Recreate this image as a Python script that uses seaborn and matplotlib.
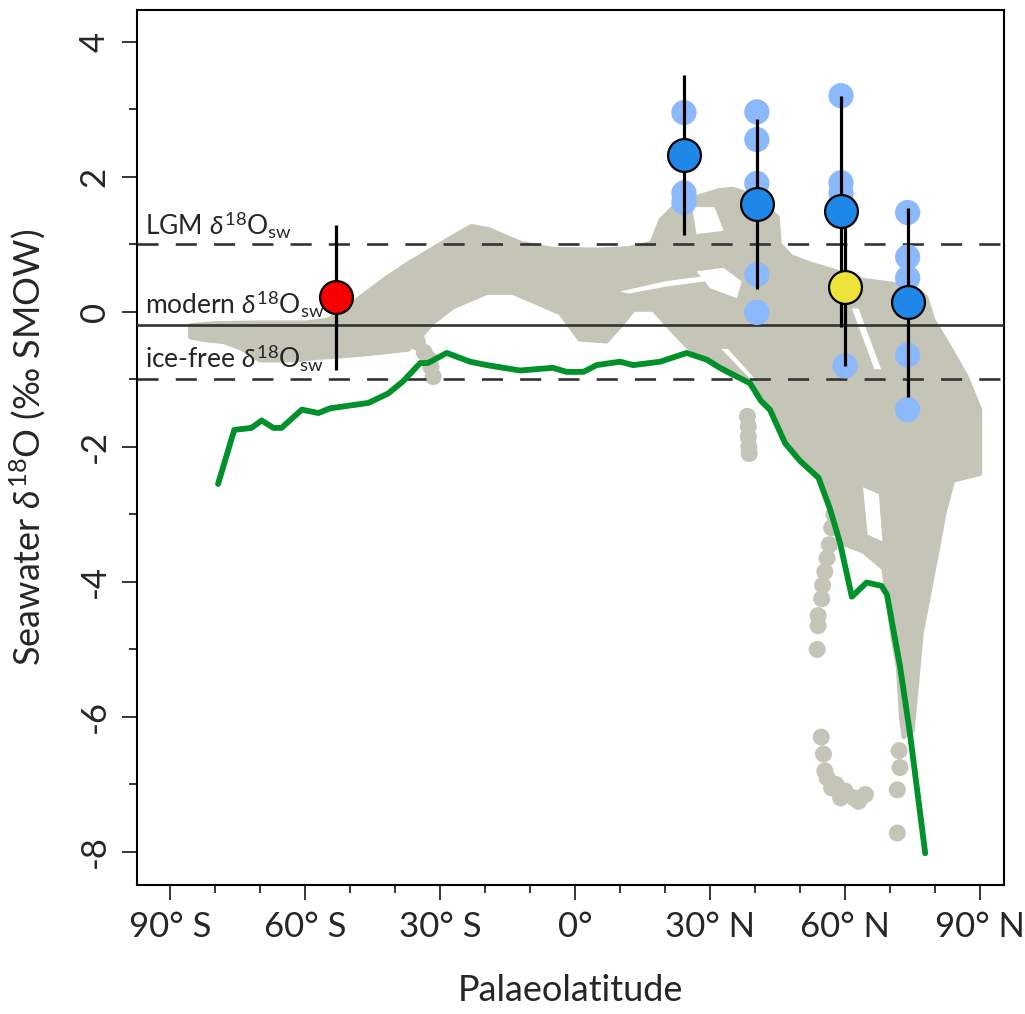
import matplotlib
matplotlib.use("Agg")
import matplotlib.pyplot as plt
from matplotlib.patches import Polygon
from matplotlib.ticker import MultipleLocator
import numpy as np
import pandas as pd
import seaborn as sns

# --- model envelope (grey cloud), outline ---
cloud_lat = [-85.5, -80, -70, -60, -55, -52, -47, -42, -37, -32, -27, -23, -19, -15, -12, -5, 5, 12,
             17, 19, 22, 25, 28, 32, 35, 40, 45, 45.5, 48, 52, 57, 64, 70, 75, 78, 79.6, 82.7, 87, 90,
             90, 87, 84, 82, 81, 79, 77, 76, 75, 73, 72.4, 71.8, 70.5, 69.5, 68.5,
             64, 60, 57, 56.7, 54.1, 50, 46.7, 43.3, 41, 38.9, 35, 33, 29, 25, 22, 17.4, 13, 10, 7, 1,
             -3.3, -13.8, -19.6, -27, -31.5, -34, -37, -45, -53.8, -57, -62, -70, -74, -78, -82, -85.5]
cloud_val = [-0.2, -0.17, -0.16, -0.16, -0.12, 0.0, 0.25, 0.5, 0.72, 0.92, 1.12, 1.27, 1.22, 1.1, 1.02, 0.93, 0.92, 0.94,
             1.02, 1.36, 1.56, 1.66, 1.72, 1.8, 1.82, 1.72, 1.4, 1.0, 0.82, 0.72, 0.62, 0.47, 0.42, 0.37, 0.22, -0.12, -0.46, -0.96, -1.45,
             -2.4, -2.45, -2.5, -3.0, -3.38, -4.07, -4.76, -5.5, -6.2, -6.3, -6.0, -5.3, -4.8, -4.3, -3.8,
             -3.55, -3.45, -3.0, -2.9, -2.42, -2.15, -1.9, -1.4, -1.25, -1.0, -0.95, -0.88, -0.7, -0.52, -0.31, 0.03, 0.03, -0.22, -0.44, -0.41,
             -0.02, 0.28, 0.28, 0.07, -0.16, -0.35, -0.56, -0.62, -0.67, -0.68, -0.72, -0.72, -0.55, -0.45, -0.42, -0.38]

# gaps inside the cloud
gap1_lat = [10, 20, 31, 31, 20, 12]
gap1_val = [0.30, 0.45, 0.55, 0.47, 0.37, 0.27]
gap2_lat = [27, 33, 37, 36, 30]
gap2_val = [0.6, 0.65, 0.45, 0.2, 0.35]
gap3_lat = [61.5, 63, 68, 66.5]
gap3_val = [0.05, 0.05, -0.85, -0.85]
gap4_lat = [26, 31, 33, 27]
gap4_val = [1.55, 1.55, 1.2, 1.15]
gap5_lat = [64, 67.5, 68.3, 65]
gap5_val = [-2.6, -2.7, -3.4, -3.3]
gap6_lat = [32.5, 34, 40, 39]
gap6_val = [-0.55, -0.55, -1.0, -1.0]

# isolated model points outside the main cloud
dots_lat = [-36, -35, -33.5, -32.5, -32, -31.5,
            38.3, 38.5, 38.5, 38.6, 38.7,
            57.5, 57, 56.5, 56, 55.5, 55, 54.8, 54, 54, 53.8,
            54.7, 55.2, 55.5, 56, 57, 58, 59, 60, 62, 63, 64.5,
            72, 72.2, 71.6, 71.6]
dots_val = [-0.3, -0.45, -0.6, -0.7, -0.82, -0.96,
            -1.55, -1.7, -1.85, -2.0, -2.1,
            -3.0, -3.2, -3.45, -3.65, -3.85, -4.05, -4.25, -4.5, -4.65, -5.0,
            -6.3, -6.55, -6.8, -6.9, -7.05, -7.0, -7.2, -7.1, -7.2, -7.25, -7.15,
            -6.5, -6.75, -7.08, -7.72]

# green model line
line_lat = [-79.3, -75.7, -71.9, -69.6, -67.0, -65.2, -60.7, -57.0, -54.4, -45.9, -41.5, -38.2, -34.4,
            -32.7, -28.5, -23.3, -19.6, -12.2, -4.9, -1.9, 1.9, 4.8, 10.0, 12.9, 18.9, 24.8, 29.3, 32.2,
            38.9, 41.3, 43.3, 46.7, 50.0, 54.1, 56.7, 58.9, 61.5, 64.8, 68.1, 69.3, 72.2, 74.4, 77.8]
line_val = [-2.55, -1.75, -1.72, -1.61, -1.72, -1.72, -1.45, -1.50, -1.43, -1.35, -1.21, -1.03, -0.76,
            -0.76, -0.61, -0.74, -0.79, -0.87, -0.83, -0.89, -0.89, -0.79, -0.74, -0.79, -0.74, -0.61, -0.71, -0.83,
            -1.06, -1.32, -1.45, -1.95, -2.21, -2.46, -2.93, -3.43, -4.22, -4.01, -4.06, -4.19, -5.25, -6.24, -8.02]

# individual proxy samples
sample_lat = [24.2, 24.2, 24.2, 40.4, 40.4, 40.4, 40.4, 40.4, 59.1, 59.1, 59.1, 60.0,
              73.9, 73.9, 73.9, 73.9, 73.9]
sample_val = [2.95, 1.76, 1.62, 2.96, 2.55, 1.90, 0.55, -0.01, 3.2, 1.91, 1.76, -0.80,
              1.47, 0.81, 0.50, -0.64, -1.45]

# site means with ranges
site_lat = [-53.1, 24.2, 40.4, 59.1, 60.0, 73.9]
site_val = [0.22, 2.32, 1.60, 1.49, 0.37, 0.14]
site_hi = [1.29, 3.51, 2.86, 3.20, 1.25, 1.54]
site_lo = [-0.86, 1.14, 0.34, -0.22, -0.81, -1.26]
site_col = ["#f80000", "#1e87e8", "#1e87e8", "#1e87e8", "#ede23a", "#1e87e8"]

ref_levels = {"LGM": 1.0, "modern": -0.19, "ice-free": -1.0}

xticks = [-90, -60, -30, 0, 30, 60, 90]
xticklabels = ["90° S", "60° S", "30° S", "0°", "30° N", "60° N", "90° N"]

sns.set_style("ticks")
plt.rcParams["font.family"] = ["Lato", "DejaVu Sans"]
plt.rcParams["mathtext.fontset"] = "custom"
plt.rcParams["mathtext.rm"] = "Lato"
plt.rcParams["mathtext.it"] = "Lato:italic"
plt.rcParams["axes.unicode_minus"] = False

fig = plt.figure(figsize=(10.25, 10.14), dpi=100)
ax = fig.add_axes([0.1337, 0.1272, 0.8458, 0.8630])

grey = "#c4c4b7"
ax.add_patch(Polygon(np.column_stack([cloud_lat, cloud_val]), closed=True,
                     facecolor=grey, edgecolor=grey, lw=3, joinstyle="round", zorder=1))
for glat, gval in [(gap1_lat, gap1_val), (gap2_lat, gap2_val), (gap3_lat, gap3_val),
                   (gap4_lat, gap4_val), (gap5_lat, gap5_val), (gap6_lat, gap6_val)]:
    ax.add_patch(Polygon(np.column_stack([glat, gval]), closed=True,
                         facecolor="white", edgecolor="none", zorder=1.5))
sns.scatterplot(x=dots_lat, y=dots_val, ax=ax, color=grey, s=150, edgecolor="none",
                zorder=2, legend=False)

# reference levels
ax.axhline(ref_levels["LGM"], color="#333333", lw=1.9, dashes=(8, 6.5), zorder=3)
ax.axhline(ref_levels["ice-free"], color="#333333", lw=1.9, dashes=(8, 6.5), zorder=3)
ax.axhline(ref_levels["modern"], color="#333333", lw=1.9, zorder=3)

lab_kw = dict(fontsize=19, ha="left", va="baseline", zorder=6)
ax.text(-95.5, 1.15, r"LGM $\it{\delta}^{\rm 18}$O$_{\rm sw}$", **lab_kw)
ax.text(-95.5, -0.02, r"modern $\it{\delta}^{\rm 18}$O$_{\rm sw}$", **lab_kw)
ax.text(-95.5, -0.82, r"ice-free $\it{\delta}^{\rm 18}$O$_{\rm sw}$", **lab_kw)

line_df = pd.DataFrame({"lat": line_lat, "val": line_val})
sns.lineplot(data=line_df, x="lat", y="val", ax=ax, color="#00912a", lw=4.2,
             sort=False, estimator=None, zorder=4)

sns.scatterplot(x=sample_lat, y=sample_val, ax=ax, color="#8bb9fb", s=330,
                edgecolor="none", zorder=5, legend=False)

for lat, lo, hi in zip(site_lat, site_lo, site_hi):
    ax.plot([lat, lat], [lo, hi], color="black", lw=2.3, zorder=6, solid_capstyle="butt")
for lat, val, col in zip(site_lat, site_val, site_col):
    ax.scatter([lat], [val], s=560, color=col, edgecolor="black", linewidth=1.6, zorder=7)

ax.set_xlim(-97.3, 95.3)
ax.set_ylim(-8.49, 4.47)
ax.set_xticks(xticks)
ax.set_xticklabels(xticklabels)
ax.xaxis.set_minor_locator(MultipleLocator(10))
ax.set_yticks([4, 2, 0, -2, -4, -6, -8])
ax.yaxis.set_minor_locator(MultipleLocator(1))
for lbl in ax.get_yticklabels():
    lbl.set_rotation(90)
    lbl.set_va("center")
ax.tick_params(axis="both", which="major", length=11, width=1.3, labelsize=25, direction="out", pad=8)
ax.tick_params(axis="both", which="minor", length=6, width=1.3, direction="out")
for sp in ax.spines.values():
    sp.set_visible(True)
    sp.set_linewidth(1.5)
    sp.set_color("black")

ax.set_xlabel("Palaeolatitude", fontsize=26, labelpad=22)
ax.set_ylabel(r"Seawater $\it{\delta}^{\rm 18}$O (‰ SMOW)", fontsize=26, labelpad=22)

fig.savefig("out.png", dpi=100)
